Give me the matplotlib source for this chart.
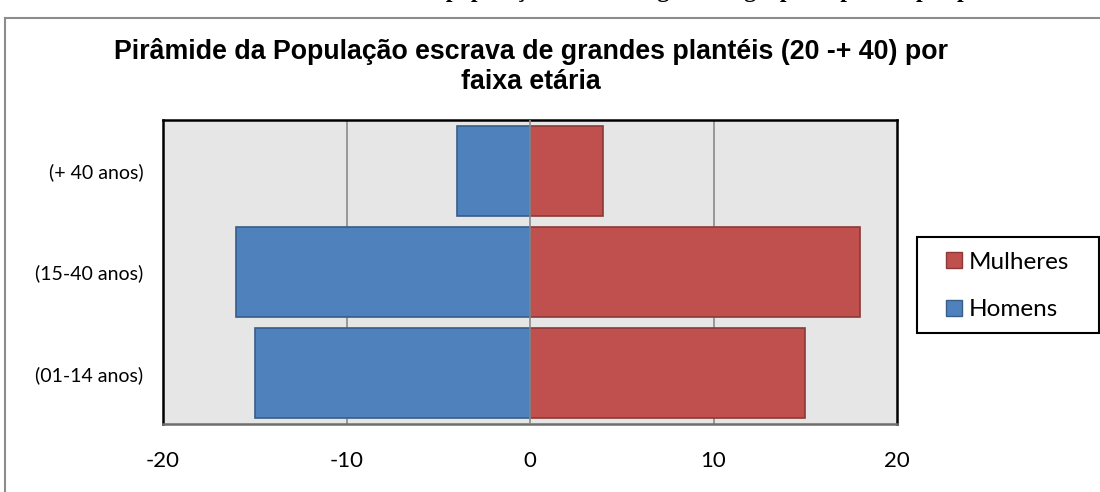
import matplotlib.pyplot as plt
from matplotlib.lines import Line2D
from matplotlib.patches import Patch, Rectangle

# faixas etárias, de baixo para cima
faixas = ['(01-14 anos)', '(15-40 anos)', '(+ 40 anos)']
homens = [-15, -16, -4]
mulheres = [15, 18, 4]
ticks_x = [-20, -10, 0, 10, 20]

azul, azul_borda = '#4f81bd', '#385d8a'
vermelho, vermelho_borda = '#c0504d', '#8c3836'

W, H = 1100, 492
fig = plt.figure(figsize=(W / 100, H / 100), dpi=100)

# linha do texto do documento, cortada no topo (só as descendentes aparecem)
fig.text(0.12, 1 + 3 / H, 'Gráfico 3 – Pirâmide etária da população escrava segundo o grupo de plantel por período',
         family='Liberation Serif', fontweight='bold', fontsize=17, va='baseline', ha='left')

# moldura do gráfico
fig.add_artist(Line2D([5 / W, 5 / W], [0, 1 - 18 / H], color='#8c8c8c', lw=1.5))
fig.add_artist(Line2D([5 / W, 1], [1 - 18 / H, 1 - 18 / H], color='#8c8c8c', lw=1.5))

titulo = ['Pirâmide da População escrava de grandes plantéis (20 -+ 40) por', 'faixa etária']
for linha, base in zip(titulo, [59, 89]):
    fig.text(531 / W, 1 - base / H, linha, family='Liberation Sans', fontweight='bold',
             fontsize=19.3, ha='center', va='baseline')

ax = fig.add_axes([163 / W, 68 / H, 734 / W, 304 / H])
ax.set_facecolor('#e6e6e6')

y = range(len(faixas))
ax.barh(y, homens, height=0.89, color=azul, edgecolor=azul_borda, lw=1.2, zorder=2)
ax.barh(y, mulheres, height=0.89, color=vermelho, edgecolor=vermelho_borda, lw=1.2, zorder=2)

for v in ticks_x[1:-1]:
    ax.axvline(v, color='#8a8a8a', lw=1.2, zorder=1 if v else 3)

ax.set_xlim(-20, 20)
ax.set_ylim(-0.5, 2.5)
ax.set_xticks(ticks_x)
ax.set_xticklabels([str(t) for t in ticks_x], family='Lato', fontsize=16)
ax.set_yticks(list(y))
ax.set_yticklabels(faixas, family='Lato', fontsize=14)
ax.tick_params(axis='x', length=0, pad=19.5)
ax.tick_params(axis='y', length=0, pad=14)

for lado in ['left', 'top', 'right']:
    ax.spines[lado].set_color('black')
    ax.spines[lado].set_linewidth(1.8)
ax.spines['bottom'].set_color('#6e6e6e')
ax.spines['bottom'].set_linewidth(1.8)

# caixa da legenda desenhada à parte, para controlar as margens
fig.add_artist(Rectangle((917 / W, 1 - 333 / H), 182 / W, 96 / H, transform=fig.transFigure,
                         facecolor='white', edgecolor='black', lw=1.5, zorder=4))
handles = [Patch(facecolor=vermelho, edgecolor=vermelho_borda, label='Mulheres'),
           Patch(facecolor=azul, edgecolor=azul_borda, label='Homens')]
leg = fig.legend(handles=handles, loc='center left', bbox_to_anchor=(946 / W, 1 - 286 / H),
                 borderaxespad=0, borderpad=0, frameon=False,
                 prop={'family': 'Lato', 'size': 17.5},
                 handlelength=0.65, handleheight=0.65, handletextpad=0.3, labelspacing=1.1)
leg.set_zorder(5)

fig.savefig('out.png', dpi=100)
